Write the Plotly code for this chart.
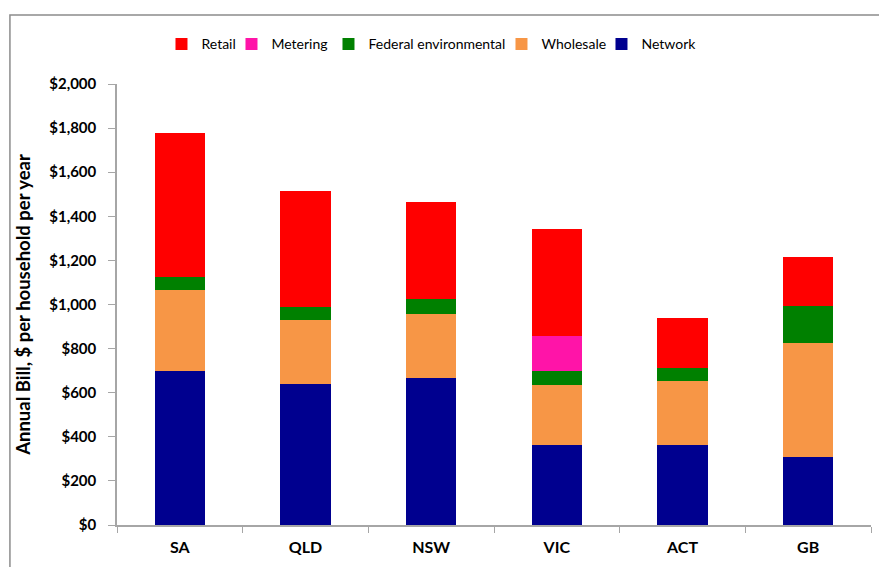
import plotly.graph_objects as go

# Data
regions = ["SA", "QLD", "NSW", "VIC", "ACT", "GB"]
network = [697, 641, 668, 364, 364, 309]
wholesale = [369, 288, 288, 271, 289, 515]
federal_env = [61, 59, 68, 64, 61, 171]
metering = [0, 0, 0, 159, 0, 0]
retail = [653, 527, 440, 485, 225, 221]

y_ticks = [0, 200, 400, 600, 800, 1000, 1200, 1400, 1600, 1800, 2000]

# Colours
COLOR_NETWORK = "#00008F"
COLOR_WHOLESALE = "#F79646"
COLOR_FEDERAL = "#008000"
COLOR_METERING = "#FF14A8"
COLOR_RETAIL = "#FF0000"

FONT = "Lato"

# name, values, colour, legend entry width
series = [
    ("Network", network, COLOR_NETWORK, 56),
    ("Wholesale", wholesale, COLOR_WHOLESALE, 55),
    ("Federal environmental", federal_env, COLOR_FEDERAL, 128),
    ("Metering", metering, COLOR_METERING, 52),
    ("Retail", retail, COLOR_RETAIL, 25),
]

fig = go.Figure()

for name, values, color, lw in series:
    fig.add_trace(
        go.Bar(
            x=regions,
            y=values,
            name=name,
            marker=dict(color=color, line=dict(width=0)),
            width=0.4,
            legendwidth=lw,
        )
    )

# the page body adds an 8px offset, so the figure is a bit smaller
fig.update_layout(
    width=879,
    height=559,
    barmode="stack",
    plot_bgcolor="white",
    paper_bgcolor="white",
    font=dict(family=FONT, color="black"),
    margin=dict(l=109, r=16, t=76, b=42, autoexpand=False),
    showlegend=True,
    legend=dict(
        orientation="h",
        traceorder="reversed",
        x=0.059,
        y=1.09,
        xanchor="left",
        yanchor="middle",
        font=dict(size=14, family=FONT),
        itemwidth=30,
        bgcolor="rgba(0,0,0,0)",
    ),
    shapes=[
        dict(
            type="rect",
            xref="paper",
            yref="paper",
            x0=-0.142,
            x1=1.05,
            y0=-0.13,
            y1=1.1565,
            line=dict(color="#8C8C8C", width=1.5),
            fillcolor="rgba(0,0,0,0)",
            layer="below",
        )
    ],
)

fig.update_xaxes(
    automargin=False,
    showgrid=False,
    zeroline=False,
    showline=True,
    linecolor="#A6A6A6",
    linewidth=1.5,
    ticks="outside",
    tickson="boundaries",
    ticklen=6,
    tickcolor="#A6A6A6",
    ticklabelstandoff=7,
    tickfont=dict(size=16, family=FONT),
    tickvals=regions,
    ticktext=["<b>" + r + "</b>" for r in regions],
)

fig.update_yaxes(
    automargin=False,
    range=[0, 2000],
    tickvals=y_ticks,
    ticktext=["<b>$" + f"{v:,}" + "</b>" for v in y_ticks],
    showgrid=False,
    zeroline=False,
    showline=True,
    linecolor="#A6A6A6",
    linewidth=1.5,
    ticks="outside",
    ticklen=7,
    tickcolor="#A6A6A6",
    ticklabelstandoff=9,
    tickfont=dict(size=15, family=FONT),
    title=dict(
        text="<b>Annual Bill, $ per household per year</b>",
        font=dict(size=18.5, family=FONT),
        standoff=14,
    ),
)

fig.write_html("out.html")
